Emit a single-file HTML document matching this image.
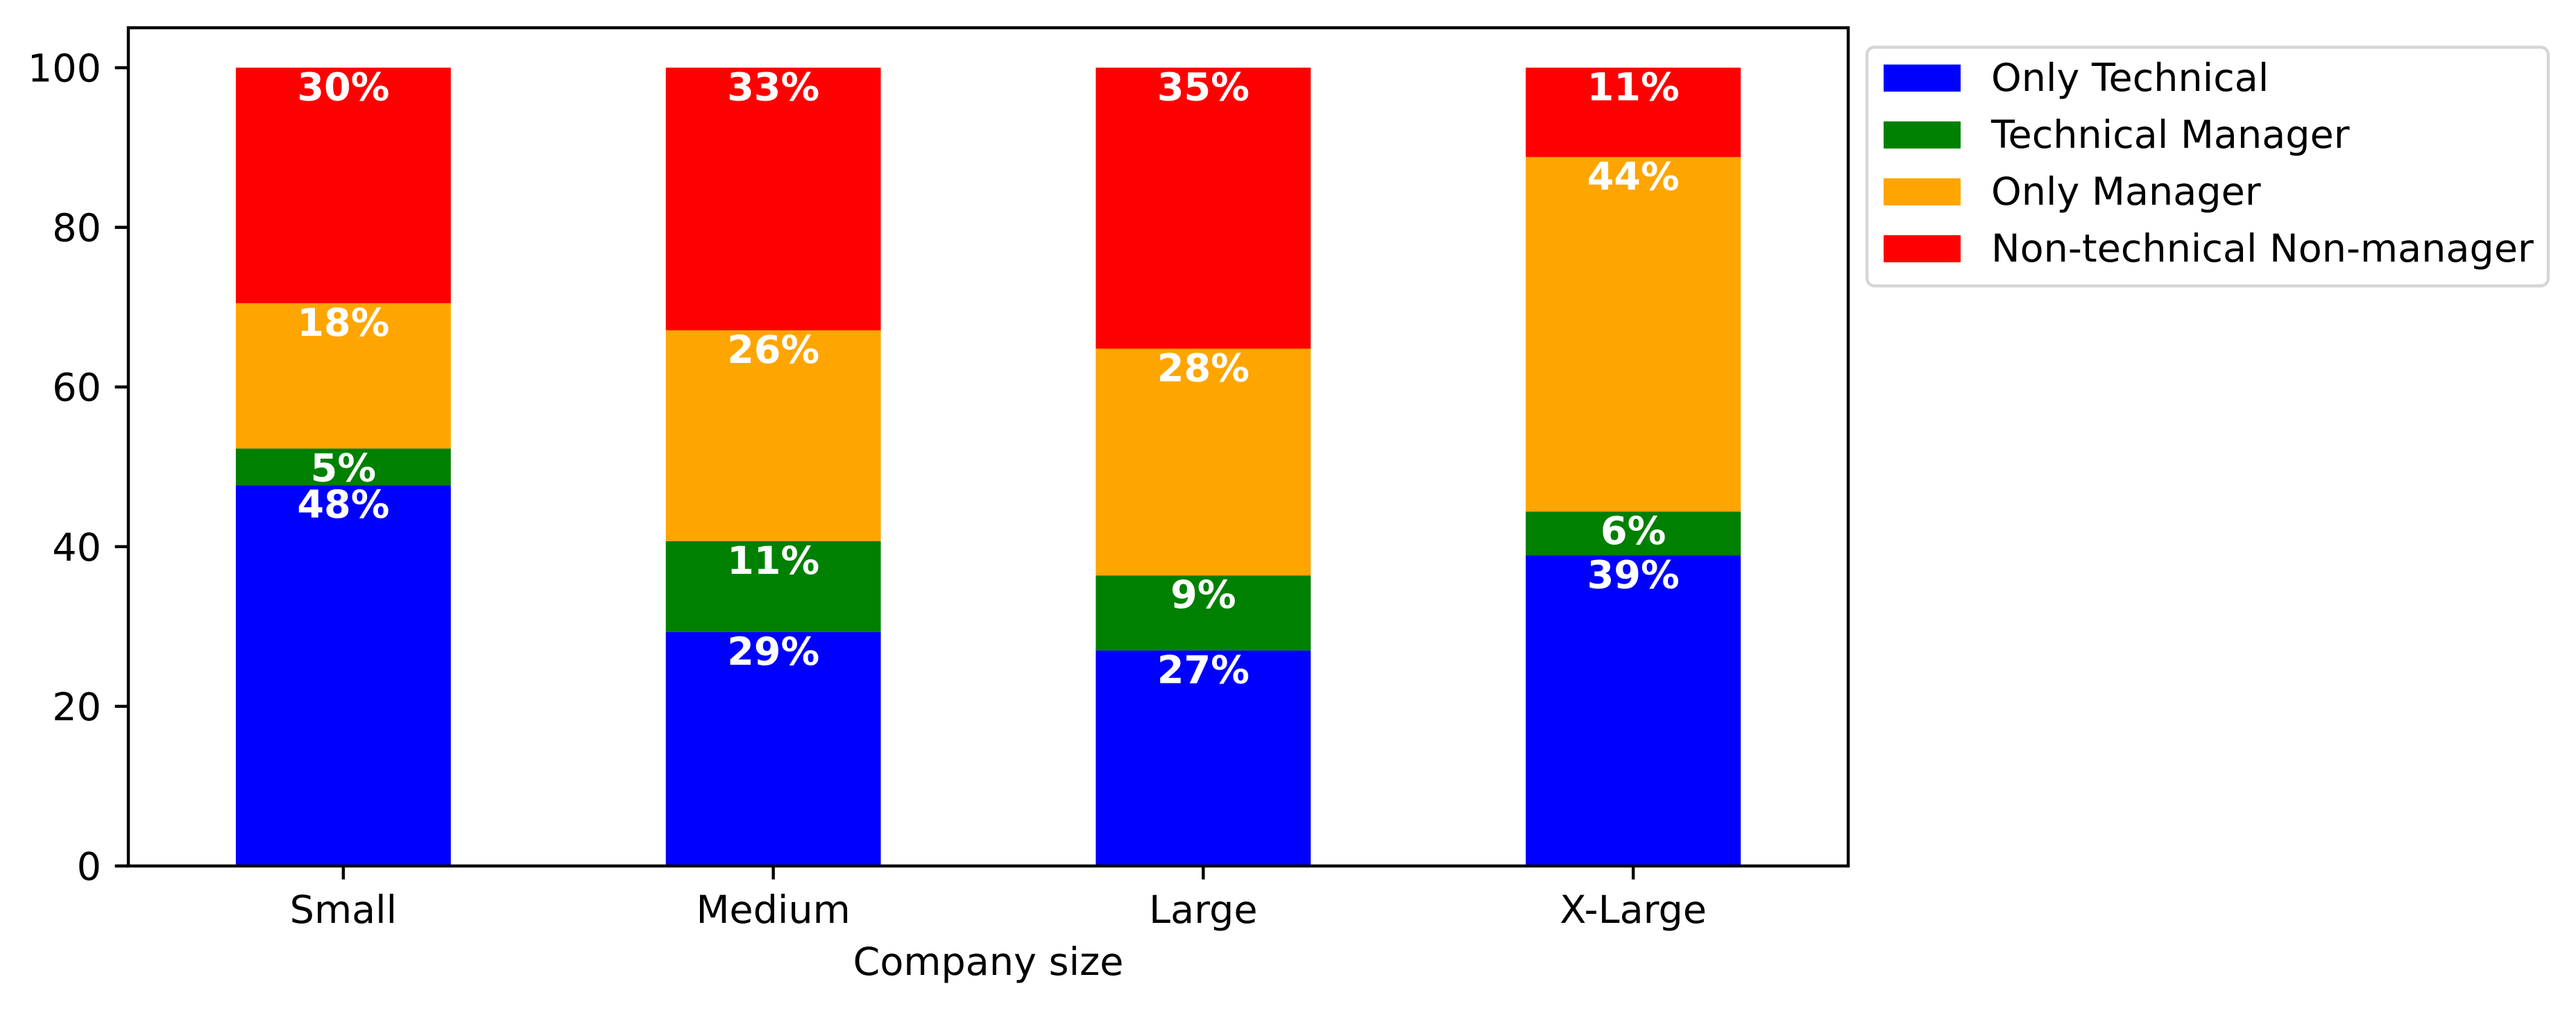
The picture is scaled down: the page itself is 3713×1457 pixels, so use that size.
<!DOCTYPE html>
<html><head><meta charset="utf-8"><style>
html,body{margin:0;padding:0;background:#fff;}
svg{display:block;font-family:"DejaVu Sans","Liberation Sans",sans-serif;}
</style></head><body>
<svg id="chart" width="3713" height="1457" viewBox="0 0 3713 1457" xmlns="http://www.w3.org/2000/svg">
<rect width="3713" height="1457" fill="#fff"/>
<g id="bars"></g>
<g id="labels"></g>
<g id="axes"></g>
<g id="legend"></g>
</svg>
<script>
const categories = ["Small","Medium","Large","X-Large"];
const seriesNames = ["Only Technical","Technical Manager","Only Manager","Non-technical Non-manager"];
const onlyTechnical = [47.7, 29.3, 27.0, 38.9];
const technicalManager = [4.6, 11.4, 9.4, 5.5];
const onlyManager = [18.2, 26.4, 28.4, 44.4];
const nonTechnical = [29.5, 32.9, 35.2, 11.2];
const yTicks = [0,20,40,60,80,100];
const colors = ["#0000ff","#008000","#ffa500","#ff0000"];

const NS="http://www.w3.org/2000/svg";
const L=185,R=2664,T=40,B=1248,YMAX=105;
const xS=i=>L+(i+0.5)*(R-L)/categories.length;
const yS=v=>B-v*(B-T)/YMAX;
const bw=0.5*(R-L)/categories.length;
function mk(tag,attrs,parent,txt){const e=document.createElementNS(NS,tag);for(const k in attrs)e.setAttribute(k,attrs[k]);if(txt!==undefined)e.textContent=txt;parent.appendChild(e);return e;}
const series=[onlyTechnical,technicalManager,onlyManager,nonTechnical];
const gb=document.getElementById('bars'),gl=document.getElementById('labels'),ga=document.getElementById('axes'),gg=document.getElementById('legend');
categories.forEach((c,i)=>{
  let base=0;
  series.forEach((s,j)=>{
    const v=s[i];const top=base+v;
    const r=mk('rect',{x:xS(i)-bw/2,y:yS(top),width:bw,height:yS(base)-yS(top),fill:colors[j]},gb);
    
    
    const t=mk('text',{x:xS(i),y:yS(top)+47,'text-anchor':'middle','font-size':'55.6','font-weight':'bold',fill:'#fff'},gl,Math.round(v)+'%');
    
    
    base=top;
  });
  const tk=mk('line',{x1:xS(i),x2:xS(i),y1:B,y2:B+19.4,stroke:'#000','stroke-width':4.4},ga);
  
  
  const tl=mk('text',{x:xS(i),y:1330,'text-anchor':'middle','font-size':'55.6',fill:'#000'},ga,c);
  
  
});
yTicks.forEach(v=>{
  const tk=mk('line',{x1:L-19.4,x2:L,y1:yS(v),y2:yS(v),stroke:'#000','stroke-width':4.4},ga);
  
  
  const tl=mk('text',{x:146,y:yS(v)+20,'text-anchor':'end','font-size':'55.6',fill:'#000'},ga,String(v));
  
  
});
const fr=mk('rect',{x:L,y:T,width:R-L,height:B-T,fill:'none',stroke:'#000','stroke-width':4.4},ga);


const xt=mk('text',{x:(L+R)/2,y:1405,'text-anchor':'middle','font-size':'55.6',fill:'#000'},ga,'Company size');


const lb=mk('rect',{x:2691,y:68,width:982,height:344,rx:11,fill:'#fff',stroke:'#d6d6d6','stroke-width':4.4},gg);


seriesNames.forEach((n,j)=>{
  const y0=93+j*82;
  const sw=mk('rect',{x:2715,y:y0,width:111,height:39,fill:colors[j]},gg);
  
  
  const t=mk('text',{x:2870,y:y0+38,'font-size':'55.6',fill:'#000'},gg,n);
  
  
});
</script>
</body></html>
